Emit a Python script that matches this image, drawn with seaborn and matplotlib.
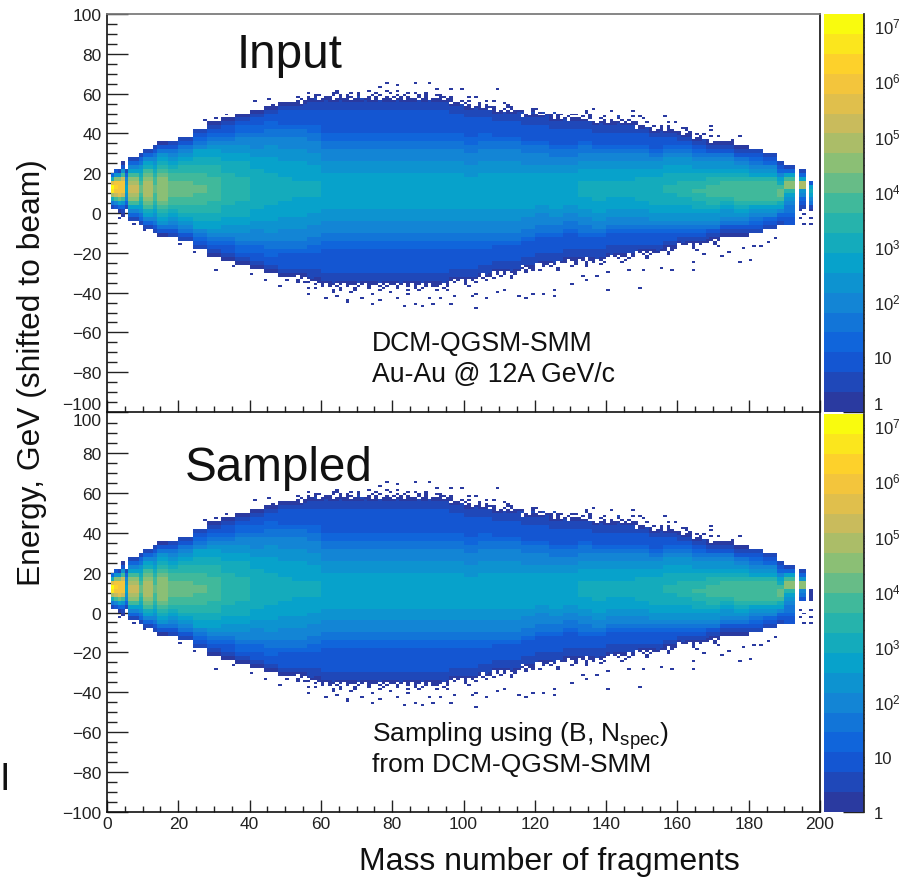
import numpy as np
import pandas as pd
import seaborn as sns
import matplotlib
matplotlib.use("Agg")
import matplotlib.pyplot as plt
from matplotlib.colors import LinearSegmentedColormap, ListedColormap, LogNorm
from matplotlib.cm import ScalarMappable
from matplotlib.ticker import LogLocator, MultipleLocator

# mass bins, finer at both ends
MASS_EDGES = [1, 2, 3, 4, 5, 6, 9, 10, 13, 14, 17] + list(range(20, 189, 4)) + [190, 193, 194, 196, 197, 198]
ENERGY_EDGES = list(range(-46, 70, 2))

# one string per mass bin, bottom to top, 2 GeV a cell, a=lowest colour band ... t=highest
LENS_MID = "abbccccccddeefffggghhhhhhhhhgggfffeeddccccccbba"
COL_BOTTOM = [2, 2, 0, -2, 2, -4, -6, -8, -10, -12, -12, -14, -18, -22, -24, -26, -28, -30, -32, -32, -34,
              -36, -36, -36, -36, -36, -36, -36, -36, -36, -34, -34, -32, -30, -30, -28, -26, -26, -24, -24,
              -24, -22, -22, -20, -20, -18, -16, -16, -14, -12, -12, -10, -8, -6, -6, 0, 2, 0, 2]
COL_LEVELS = [
    "beinstpid", "cfkoqrqmgc", "adhlpqqqmgb", "abdgkoqqqokgca", "bdfghhgfdb",
    "bdfhkmnoonmkhfdb", "bdeghijkllkjihgedb", "bdfhiklmnnnnmlkihfdb", "bcefghijkkllkkjihgfecb",
    "aceghijklmmmmmmlkjihgeca", "bcefghijkkllllkkjihgfecb", "bcefghijjkkllllkkjjihgfecb",
    "bcdefhhiijjkkkllkkkjjiihhfedcb", "abcdefghhiijjjkkkkkkjjjiihhgfedcba",
    "abccdefgghhiiijjjjjjjjiiihhggfedccba", "abcddeffgghhiiiijjjjjjiiiihhggffeddcba",
    "abccddefffgghhhiiiiiiiiiihhhggfffeddccba", "abccddeeffggghhhhiiiiiiiihhhhgggffeeddccba",
    "abccccdeefffggghhhhiiiiiihhhhgggfffeedccccba", "abccccdeefffggghhhhhiiiihhhhhgggfffeedccccba",
    "abbccccddeefffggghhhhiiiihhhhgggfffeeddccccbba",
    LENS_MID, LENS_MID, LENS_MID, LENS_MID, LENS_MID, LENS_MID, LENS_MID[:-1], LENS_MID[:-1], LENS_MID[:-1],
    "abbcccccddeefffggghhhhhhhhhgggfffeeddcccccbba", "abbcccccddeefffggghhhhhhhhgggfffeeddcccccbba",
    "abbccccddeefffggghhhhhhhhhgggfffeeddccccbba", "abbccccdeefffggghhhhhhhhhgggfffeedccccbba",
    "abbccccdeefffggghhhhhhhhhgggfffeedccccbba", "abbccccdeefffgghhhhhhhhhggfffeedccccbba",
    "abbccccdeefffgghhhhhhhhggfffeedccccbba", "abbccccdeeffgghhhhhhhhhggffeedccccbba",
    "abbccccdeeffgghhhhhhhhggffeedccccbba", "abbcccdeeffgghhhiiiihhhggffeedcccbba",
    "abbcccdeffgghhhiiiiihhhggffedcccbba", "abbcccdeffgghhhiiiihhhggffedcccbba",
    "abbcccdeffgghhhiiiihhhggffedcccbba", "abcccdeffgghhiiiiiihhggffedcccba",
    "abcccdefgghhiiiiiiihhggfedcccba", "abccdefgghhiiijjiiihhggfedccba",
    "abcdefgghhiijjjjiihhggfedcba", "abcdefgghiijjkjjiihggfedcba",
    "abcefgghijjkkkjjihggfecba", "abcefgghijkkkkjihggfecba", "abcefghijkkkkkjihgfecba",
    "bcdefghjkkkkkjhgfedcb", "bcdfghjkkkkkjhgfdcb", "bcdfhikllkihfdcb", "ccdeefghjmmkhdb",
    "", "bcdfgnnhdb", "", "befhihc",
]
SAMPLED_BOTTOM = COL_BOTTOM[:56] + [6, 0, 6]
SAMPLED_LEVELS = COL_LEVELS[:56] + ["cefmmgdb", "", "aaa"]

# torn 1 GeV rows along the rim of the body, mass 52 upwards, innermost row first
RIM_START = 52
RIM_TOP = [
    "aaabaaaaabaaabaaaaaabaaabaaaabaaaaabaabaaaaaaaabaaabaaa.aaabaaab.aaaaaabaaaab.aaaaa.aabaaaabaaaa.aabaaabaaaabaaaaaabaaaa",
    "aa.aaab.aaa.aaaa.aabaa.a.aaa.aa.aaa.aa.aaa.a.aa.aa.aa.aaa.a.a.aa.a.aa..aa.a.a.aaa..aa.aa.aaa.a.a.aa.a.aa.aa.a.aa.aa.a.aa",
    ".a..a.a..aa..a.aa.a..a.a..a.a.a.a..a.a...aa.a..a.a..a.a.a..a.a..a..a.aa.a.a..a...a.a...a.a..a.a.a...a..a.a..a..a..a.a...",
    "..a....a...a...a..a...a.a....a.a...a.a..a...a...a...a...a...a...a..a....a.a....a...a..a....a....a..a...a.a....a....a....",
    "....a.......a.....a....a...a.........a......a....a..........a......a.....a........a....a...a...a.............a.......a...",
]
RIM_BOTTOM = [
    "aaaaabaaaaabaaaaaabaaaaabaaaaabaaaaabaaaaabaaaaaaaaaa.baaaaaabaa.aaabaaaab.aaaaaaa.aabaaabaaaa.abaaaaabaaaaaabaaaaaabaaa",
    "a.aa.aaaa.aa.a.aaa.a.aaa.a.aa.a.a.aa.a.aaa.aa.a.a.a.a.aa.a.a.aa.a.aa..aa.a..a.aa.a.aa.a.a.a.aa.a.a.a.aa.a.aa.aa.a.a.aa.a..",
    "..a.a..a..a.a..a..a..a..a.a..a..a.a..a.aa..a.a..a..a.a...a.a..a..a.a..a.a...a..a..a.a..a...a..a...a.a...a.a.....a...a.a.",
    ".a....a......a...a...a...a...a....a.a.....a.....a.....a...a..a...a........a....a..a...a......a.....a.....a......a.....a..",
    "...a.......a.....a......a.......a..a....a..a.....a......a....a.......a....a...a...a.........a......a.....a.......a.....a...",
]

# lone filled bins outside the solid body
SPECK_MASS = [76.4, 78.5, 81.5, 86.6, 90.4, 96.5, 99.5, 109.3, 92.5, 81.8, 73.8, 78, 84.6, 86.4, 93, 96.5, 101.4,
              103.7, 106.5, 108.9, 111, 113.5, 120.5, 122.4, 125.2, 127.5, 130.8, 116.3, 119.6, 68.2, 65.4, 70,
              103.5, 83.6, 88.5, 67.3, 74.6, 86.4, 91.6, 96.5, 93.4, 76.6, 81.8, 106.5, 115.6, 117.5, 125.2, 122.4,
              119.6, 111.7, 109.3, 130.4, 125.2, 71, 90, 102.3, 97.2, 103.7, 79.4, 84.1, 68.2, 74.7, 65.4,
              41.6, 45.5, 53.7, 58.4, 64.5, 63, 27.6, 30.4, 33.6, 46.3, 51, 55.1, 4.7, 3.6, 7.9, 10.7, 20, 24.3,
              30.6, 35, 40.7, 44.9, 48.4, 56.5, 56.5, 60.7, 63.6, 61.2, 64.5, 67.3, 53.3, 50.5, 58.4,
              136.4, 134.4, 147.4, 141.4, 143.9, 149.5, 150.9, 156.5, 159.5, 157.5, 169.4, 169.4, 171, 177.4, 175.2,
              162.1, 165, 153.3, 140.5, 149.5, 134.6, 137.4, 140.5, 146.4, 150.5, 158.4, 164.5, 180.4, 177.4, 172.4,
              167.3, 174.3, 178.5, 183.5, 181.3, 185.5, 187.8, 155.1, 164, 133.4,
              194.5, 195.5, 194.5, 195.5, 197.5, 197.5, 197.5]
SPECK_ENERGY = [63.7, 65, 64, 65, 65, 62.5, 62, 62, 62, 61.6, 61.3, 61, 60, 60, 59, 57.5, 58.3,
                58, 56.6, 56.6, 55.3, 53.6, 52.4, 50.8, 50.8, 49, 49.6, 50.8, 50, 60.3, 59.1, 58.3,
                -47.7, -46.7, -46.7, -44.7, -45.5, -45.2, -45.2, -45.2, -42.2, -43.9, -42.5, -42.2, -41.9, -43, -41.4,
                -40.5, -40.5, -38.9, -39.7, -36, -38.5, -42.2, -42.2, -41.4, -41.4, -40.5, -39.7, -40.5, -39.7, -40.5,
                -38.9,
                56.2, 57.7, 58.2, 59.8, 61.5, 60.3, 46.4, 47.3, 49, 54.8, 55.6, 56.5, 24.7, -3, -5.5, -8.3, -15.5, -19.7,
                -28.1, -26.4, -30.6, -33.1, -36.1, -37.6, -40.2, -36.5, -39.3, -42.3, -41.5, -44, -34.8, -34, -37.3,
                52.6, 51.5, 51.8, 51, 48.6, 48.6, 47.6, 48.1, 45.9, 45.1, 43.1, 41, 38.6, 38, 36.9,
                42.6, 39.7, 43.9, -38.5, -37.6, -33.5, -31.5, -29.4, -29, -29, -28.1, -28.6, -23.1, -24.4, -21.4,
                -21, -19.7, -17.7, -16.4, -16.9, -14.7, -12.2, -27.3, -24.8, -31.1,
                1.2, -1, -3, -5.5, 1.2, -3, -6]

BAND_DECADES = 0.36
COLOR_TICKS = [1, 10, 100, 1000, 10000, 100000, 1000000, 10000000]
COLOR_LABELS = ["1", "10", "10$^{2}$", "10$^{3}$", "10$^{4}$", "10$^{5}$", "10$^{6}$", "10$^{7}$"]
BIRD = ["#2a3aa0", "#0f5cdd", "#1481d6", "#06a4ca", "#2eb7a4", "#87bf77", "#d1bb59", "#fec832", "#f9fb0e"]

sns.set_theme(style="white")
plt.rcParams["font.family"] = ["Liberation Sans", "DejaVu Sans"]
plt.rcParams["mathtext.default"] = "regular"


def level_log(c):
    return (ord(c) - ord("a") + 0.5) * BAND_DECADES


def column_table(bottoms, levels):
    # body cells as a long table, plus the torn rim read relative to each column's edge
    rows, rim = [], []
    lows, highs = {}, {}
    for i, (low, col) in enumerate(zip(bottoms, levels)):
        mid = (MASS_EDGES[i] + MASS_EDGES[i + 1]) / 2
        if RIM_START < mid < 172:
            if col.endswith("a"):
                col = col[:-1]
            if col.startswith("a"):
                col, low = col[1:], low + 2
        lows[i], highs[i] = low, low + 2 * len(col)
        for j, c in enumerate(col):
            rows.append((mid, low + 2 * j + 1, level_log(c)))
    for table, edge, sign in [(RIM_TOP, highs, 1), (RIM_BOTTOM, lows, -1)]:
        for r, row in enumerate(table):
            for k, c in enumerate(row):
                mass = RIM_START + k + 0.5
                i = np.searchsorted(MASS_EDGES, mass) - 1
                if c != "." and mass < 172:
                    rim.append((mass, edge[i] + sign * (r + 0.5), level_log(c)))
    for m, e in zip(SPECK_MASS, SPECK_ENERGY):
        rim.append((m, e, level_log("a")))
    return (pd.DataFrame(rows, columns=["mass", "energy", "logcount"]),
            pd.DataFrame(rim, columns=["mass", "energy", "logcount"]))


W, H = 899, 878
fig = plt.figure(figsize=(W / 100, H / 100), dpi=100)
ax_top = fig.add_axes([107 / W, 1 - 413 / H, 713 / W, 398 / H])
ax_low = fig.add_axes([107 / W, 1 - 813 / H, 713 / W, 399 / H])
cax_top = fig.add_axes([824 / W, 1 - 413 / H, 40 / W, 398 / H])
cax_low = fig.add_axes([824 / W, 1 - 813 / H, 40 / W, 398 / H])

cmap = LinearSegmentedColormap.from_list("bird", BIRD)
cmap = ListedColormap(cmap(np.linspace(0, 1, 20)))
top_log = 20 * BAND_DECADES

panels = [(ax_top, COL_BOTTOM, COL_LEVELS), (ax_low, SAMPLED_BOTTOM, SAMPLED_LEVELS)]
for ax, bottoms, levels in panels:
    body, rim = column_table(bottoms, levels)
    sns.histplot(data=body, x="mass", y="energy", weights="logcount", bins=(MASS_EDGES, ENERGY_EDGES),
                 cmap=cmap, vmin=0, vmax=top_log, ax=ax)
    rim_logs = rim.drop_duplicates(["mass", "energy"])
    sns.histplot(data=rim_logs, x="mass", y="energy", weights="logcount", binwidth=(1, 1),
                 binrange=((0, 200), (-60, 70)), cmap=cmap, vmin=0, vmax=top_log, ax=ax)
    ax.set_xlim(0, 200)
    ax.set_ylim(-100, 100)
    ax.set_xlabel("")
    ax.set_ylabel("")
    ax.xaxis.set_major_locator(MultipleLocator(20))
    ax.xaxis.set_minor_locator(MultipleLocator(5))
    ax.yaxis.set_major_locator(MultipleLocator(20))
    ax.yaxis.set_minor_locator(MultipleLocator(5))
    ax.tick_params(axis="x", which="major", direction="in", length=8.5, width=1, bottom=True, color="#222222")
    ax.tick_params(axis="x", which="minor", direction="in", length=4.3, width=1, bottom=True, color="#222222")
    ax.tick_params(axis="y", which="major", direction="in", length=15, width=1, left=True, color="#222222",
                   labelsize=12.5, pad=4, labelcolor="#222222")
    ax.tick_params(axis="y", which="minor", direction="in", length=7.5, width=1, left=True, color="#222222")
    for side in ["left", "bottom", "right"]:
        ax.spines[side].set_color("#111111")
        ax.spines[side].set_linewidth(1.2)
    ax.patch.set_alpha(0)

ax_top.spines["top"].set_color("#777777")
ax_low.spines["top"].set_visible(False)
ax_top.tick_params(axis="x", labelbottom=False)
ax_low.tick_params(axis="x", labelsize=12.5, pad=3, labelcolor="#222222")

# end labels pushed off the shared border, as in the picture
for tick, val in zip(ax_top.yaxis.get_major_ticks(), ax_top.get_yticks()):
    if val == -100:
        tick.label1.set_va("bottom")
for tick, val in zip(ax_low.yaxis.get_major_ticks(), ax_low.get_yticks()):
    if val == 100:
        tick.label1.set_va("top")
        tick.tick1line.set_visible(False)

for cax in [cax_top, cax_low]:
    sm = ScalarMappable(norm=LogNorm(1, 10 ** top_log), cmap=cmap)
    cb = fig.colorbar(sm, cax=cax)
    cb.outline.set_visible(False)
    cax.spines["right"].set_visible(True)
    cax.spines["right"].set_color("#222222")
    cax.yaxis.set_ticks_position("right")
    cax.set_yticks(COLOR_TICKS, COLOR_LABELS)
    cax.yaxis.set_minor_locator(LogLocator(base=10, subs=np.arange(2, 10), numticks=12))
    cax.tick_params(axis="y", which="major", direction="in", length=15, width=1, color="#222222",
                    labelsize=12, pad=7, labelcolor="#222222")
    cax.tick_params(axis="y", which="minor", direction="in", length=7.5, width=1, color="#222222")
cax_top.get_yticklabels()[0].set_va("bottom")


def label(x, y, s, size, **kw):
    fig.text(x / W, 1 - y / H, s, fontsize=size, va="baseline", color="#111111", **kw)


label(237, 68, "Input", 34.3)
label(185, 481, "Sampled", 34.3)
label(372, 351, "DCM-QGSM-SMM", 19.2)
label(372, 382, "Au-Au @ 12A GeV/c", 19.2)
label(372, 742, "Sampling using (B, N$_{spec}$)", 19)
label(372, 772, "from DCM-QGSM-SMM", 19)
label(40, 373, "Energy, GeV (shifted to beam)", 22.9, rotation=90, ha="center", rotation_mode="anchor")
label(549, 870, "Mass number of fragments", 23, ha="center")
label(5, 790, "I", 27, ha="center")

fig.savefig("out.png", dpi=100)
